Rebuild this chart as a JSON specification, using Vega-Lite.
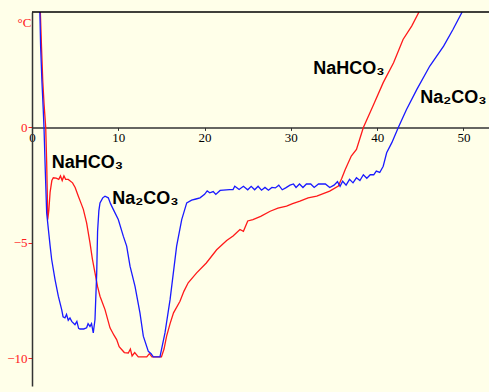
{
  "$schema": "https://vega.github.io/schema/vega-lite/v6.json",
  "width": 457,
  "height": 374,
  "autosize": {"type": "none"},
  "padding": {"left": 32, "top": 12, "right": 0, "bottom": 6},
  "background": "#FFFFE9",
  "config": {"view": {"stroke": null, "fill": "#FFFFE9"}},
  "datasets": {
    "curves": [
      {"s":"NaHCO3","t":0.95,"v":5.2},{"s":"NaHCO3","t":1.1,"v":3.5},{"s":"NaHCO3","t":1.25,"v":2.0},{"s":"NaHCO3","t":1.4,"v":1.0},{"s":"NaHCO3","t":1.59,"v":0},{"s":"NaHCO3","t":1.7,"v":-1.5},{"s":"NaHCO3","t":1.78,"v":-3.0},{"s":"NaHCO3","t":1.82,"v":-4.0},{"s":"NaHCO3","t":1.95,"v":-3.6},{"s":"NaHCO3","t":2.1,"v":-2.8},{"s":"NaHCO3","t":2.3,"v":-2.3},{"s":"NaHCO3","t":2.47,"v":-2.18},{"s":"NaHCO3","t":2.8,"v":-2.2},{"s":"NaHCO3","t":3.1,"v":-2.25},{"s":"NaHCO3","t":3.3,"v":-2.1},{"s":"NaHCO3","t":3.5,"v":-2.3},{"s":"NaHCO3","t":3.7,"v":-2.1},{"s":"NaHCO3","t":3.9,"v":-2.25},{"s":"NaHCO3","t":4.2,"v":-2.25},{"s":"NaHCO3","t":4.7,"v":-2.4},{"s":"NaHCO3","t":5.0,"v":-2.6},{"s":"NaHCO3","t":5.37,"v":-2.98},{"s":"NaHCO3","t":5.7,"v":-3.3},{"s":"NaHCO3","t":5.95,"v":-3.55},{"s":"NaHCO3","t":6.33,"v":-4.13},{"s":"NaHCO3","t":6.72,"v":-5.0},{"s":"NaHCO3","t":7.0,"v":-5.7},{"s":"NaHCO3","t":7.3,"v":-6.3},{"s":"NaHCO3","t":7.6,"v":-6.9},{"s":"NaHCO3","t":7.88,"v":-7.31},{"s":"NaHCO3","t":8.46,"v":-7.89},{"s":"NaHCO3","t":9.04,"v":-8.68},{"s":"NaHCO3","t":9.5,"v":-9.0},{"s":"NaHCO3","t":9.81,"v":-9.19},{"s":"NaHCO3","t":10.1,"v":-9.5},{"s":"NaHCO3","t":10.39,"v":-9.62},{"s":"NaHCO3","t":10.7,"v":-9.75},{"s":"NaHCO3","t":11.16,"v":-9.77},{"s":"NaHCO3","t":11.4,"v":-9.6},{"s":"NaHCO3","t":11.6,"v":-9.9},{"s":"NaHCO3","t":11.9,"v":-9.75},{"s":"NaHCO3","t":12.32,"v":-9.94},{"s":"NaHCO3","t":12.8,"v":-9.94},{"s":"NaHCO3","t":13.3,"v":-9.94},{"s":"NaHCO3","t":13.6,"v":-9.8},{"s":"NaHCO3","t":13.9,"v":-9.94},{"s":"NaHCO3","t":14.5,"v":-9.94},{"s":"NaHCO3","t":15.0,"v":-9.94},{"s":"NaHCO3","t":15.3,"v":-9.6},{"s":"NaHCO3","t":15.6,"v":-9.04},{"s":"NaHCO3","t":16.0,"v":-8.5},{"s":"NaHCO3","t":16.4,"v":-8.03},{"s":"NaHCO3","t":17.15,"v":-7.53},{"s":"NaHCO3","t":17.6,"v":-7.1},{"s":"NaHCO3","t":18.1,"v":-6.73},{"s":"NaHCO3","t":19.08,"v":-6.3},{"s":"NaHCO3","t":20.2,"v":-5.87},{"s":"NaHCO3","t":21.4,"v":-5.3},{"s":"NaHCO3","t":22.56,"v":-4.9},{"s":"NaHCO3","t":23.3,"v":-4.7},{"s":"NaHCO3","t":24.1,"v":-4.42},{"s":"NaHCO3","t":24.5,"v":-4.5},{"s":"NaHCO3","t":25.0,"v":-4.05},{"s":"NaHCO3","t":25.6,"v":-3.99},{"s":"NaHCO3","t":26.5,"v":-3.85},{"s":"NaHCO3","t":27.6,"v":-3.63},{"s":"NaHCO3","t":28.5,"v":-3.5},{"s":"NaHCO3","t":29.5,"v":-3.41},{"s":"NaHCO3","t":30.2,"v":-3.3},{"s":"NaHCO3","t":31.05,"v":-3.19},{"s":"NaHCO3","t":32.0,"v":-3.05},{"s":"NaHCO3","t":33.0,"v":-2.98},{"s":"NaHCO3","t":34.5,"v":-2.76},{"s":"NaHCO3","t":35.5,"v":-2.54},{"s":"NaHCO3","t":35.9,"v":-2.2},{"s":"NaHCO3","t":36.3,"v":-1.82},{"s":"NaHCO3","t":37.0,"v":-1.24},{"s":"NaHCO3","t":37.6,"v":-0.95},{"s":"NaHCO3","t":38.4,"v":0.0},{"s":"NaHCO3","t":39.5,"v":0.92},{"s":"NaHCO3","t":40.7,"v":1.94},{"s":"NaHCO3","t":41.9,"v":2.8},{"s":"NaHCO3","t":43.0,"v":3.81},{"s":"NaHCO3","t":44.0,"v":4.39},{"s":"NaHCO3","t":44.8,"v":4.97},{"s":"NaHCO3","t":45.0,"v":5.2},
      {"s":"Na2CO3","t":0.9,"v":5.2},{"s":"Na2CO3","t":1.0,"v":3.5},{"s":"Na2CO3","t":1.15,"v":2.0},{"s":"Na2CO3","t":1.3,"v":0.8},{"s":"Na2CO3","t":1.39,"v":0},{"s":"Na2CO3","t":1.55,"v":-2.0},{"s":"Na2CO3","t":1.7,"v":-3.7},{"s":"Na2CO3","t":1.9,"v":-4.42},{"s":"Na2CO3","t":2.09,"v":-5.1},{"s":"Na2CO3","t":2.28,"v":-5.72},{"s":"Na2CO3","t":2.67,"v":-6.59},{"s":"Na2CO3","t":3.05,"v":-7.31},{"s":"Na2CO3","t":3.44,"v":-7.89},{"s":"Na2CO3","t":3.6,"v":-8.2},{"s":"Na2CO3","t":3.82,"v":-8.25},{"s":"Na2CO3","t":4.0,"v":-8.1},{"s":"Na2CO3","t":4.2,"v":-8.35},{"s":"Na2CO3","t":4.4,"v":-8.25},{"s":"Na2CO3","t":4.6,"v":-8.4},{"s":"Na2CO3","t":4.98,"v":-8.54},{"s":"Na2CO3","t":5.2,"v":-8.4},{"s":"Na2CO3","t":5.4,"v":-8.7},{"s":"Na2CO3","t":5.56,"v":-8.73},{"s":"Na2CO3","t":6.0,"v":-8.73},{"s":"Na2CO3","t":6.33,"v":-8.68},{"s":"Na2CO3","t":6.5,"v":-8.5},{"s":"Na2CO3","t":6.72,"v":-8.62},{"s":"Na2CO3","t":6.9,"v":-8.5},{"s":"Na2CO3","t":7.1,"v":-8.9},{"s":"Na2CO3","t":7.3,"v":-8.32},{"s":"Na2CO3","t":7.5,"v":-6.3},{"s":"Na2CO3","t":7.6,"v":-4.5},{"s":"Na2CO3","t":7.75,"v":-3.6},{"s":"Na2CO3","t":7.88,"v":-3.27},{"s":"Na2CO3","t":8.2,"v":-3.05},{"s":"Na2CO3","t":8.46,"v":-2.98},{"s":"Na2CO3","t":8.84,"v":-3.05},{"s":"Na2CO3","t":9.1,"v":-3.3},{"s":"Na2CO3","t":9.42,"v":-3.55},{"s":"Na2CO3","t":10.0,"v":-3.99},{"s":"Na2CO3","t":10.58,"v":-4.71},{"s":"Na2CO3","t":10.97,"v":-5.14},{"s":"Na2CO3","t":11.36,"v":-6.01},{"s":"Na2CO3","t":11.94,"v":-6.88},{"s":"Na2CO3","t":12.51,"v":-8.03},{"s":"Na2CO3","t":12.9,"v":-9.04},{"s":"Na2CO3","t":13.48,"v":-9.7},{"s":"Na2CO3","t":13.8,"v":-9.8},{"s":"Na2CO3","t":14.06,"v":-9.94},{"s":"Na2CO3","t":14.83,"v":-9.94},{"s":"Na2CO3","t":15.41,"v":-8.9},{"s":"Na2CO3","t":16.0,"v":-7.46},{"s":"Na2CO3","t":16.38,"v":-6.3},{"s":"Na2CO3","t":16.76,"v":-5.14},{"s":"Na2CO3","t":17.35,"v":-3.99},{"s":"Na2CO3","t":17.93,"v":-3.27},{"s":"Na2CO3","t":18.5,"v":-3.15},{"s":"Na2CO3","t":19.0,"v":-3.1},{"s":"Na2CO3","t":19.47,"v":-3.05},{"s":"Na2CO3","t":20.0,"v":-2.9},{"s":"Na2CO3","t":20.3,"v":-2.75},{"s":"Na2CO3","t":20.6,"v":-2.83},{"s":"Na2CO3","t":21.0,"v":-2.78},{"s":"Na2CO3","t":21.3,"v":-2.9},{"s":"Na2CO3","t":21.8,"v":-2.73},{"s":"Na2CO3","t":22.9,"v":-2.69},{"s":"Na2CO3","t":23.3,"v":-2.69},{"s":"Na2CO3","t":23.5,"v":-2.55},{"s":"Na2CO3","t":23.7,"v":-2.6},{"s":"Na2CO3","t":24.0,"v":-2.69},{"s":"Na2CO3","t":24.5,"v":-2.55},{"s":"Na2CO3","t":25.0,"v":-2.7},{"s":"Na2CO3","t":25.4,"v":-2.55},{"s":"Na2CO3","t":25.8,"v":-2.7},{"s":"Na2CO3","t":26.2,"v":-2.55},{"s":"Na2CO3","t":26.6,"v":-2.72},{"s":"Na2CO3","t":27.0,"v":-2.6},{"s":"Na2CO3","t":27.4,"v":-2.72},{"s":"Na2CO3","t":27.8,"v":-2.6},{"s":"Na2CO3","t":28.2,"v":-2.62},{"s":"Na2CO3","t":28.6,"v":-2.5},{"s":"Na2CO3","t":29.0,"v":-2.7},{"s":"Na2CO3","t":29.4,"v":-2.62},{"s":"Na2CO3","t":29.9,"v":-2.5},{"s":"Na2CO3","t":30.3,"v":-2.45},{"s":"Na2CO3","t":30.6,"v":-2.6},{"s":"Na2CO3","t":31.0,"v":-2.45},{"s":"Na2CO3","t":31.4,"v":-2.6},{"s":"Na2CO3","t":31.8,"v":-2.45},{"s":"Na2CO3","t":32.3,"v":-2.45},{"s":"Na2CO3","t":32.7,"v":-2.6},{"s":"Na2CO3","t":33.2,"v":-2.45},{"s":"Na2CO3","t":34.0,"v":-2.45},{"s":"Na2CO3","t":34.5,"v":-2.6},{"s":"Na2CO3","t":35.0,"v":-2.5},{"s":"Na2CO3","t":35.4,"v":-2.35},{"s":"Na2CO3","t":35.7,"v":-2.55},{"s":"Na2CO3","t":36.0,"v":-2.33},{"s":"Na2CO3","t":36.4,"v":-2.5},{"s":"Na2CO3","t":36.8,"v":-2.25},{"s":"Na2CO3","t":37.2,"v":-2.4},{"s":"Na2CO3","t":37.6,"v":-2.18},{"s":"Na2CO3","t":38.0,"v":-2.3},{"s":"Na2CO3","t":38.4,"v":-2.05},{"s":"Na2CO3","t":38.8,"v":-2.2},{"s":"Na2CO3","t":39.2,"v":-2.05},{"s":"Na2CO3","t":39.6,"v":-2.05},{"s":"Na2CO3","t":39.9,"v":-1.89},{"s":"Na2CO3","t":40.3,"v":-1.95},{"s":"Na2CO3","t":40.7,"v":-1.68},{"s":"Na2CO3","t":41.1,"v":-1.1},{"s":"Na2CO3","t":41.7,"v":-0.66},{"s":"Na2CO3","t":42.45,"v":0},{"s":"Na2CO3","t":43.4,"v":0.78},{"s":"Na2CO3","t":44.6,"v":1.65},{"s":"Na2CO3","t":46.1,"v":2.66},{"s":"Na2CO3","t":47.7,"v":3.52},{"s":"Na2CO3","t":48.8,"v":4.25},{"s":"Na2CO3","t":49.8,"v":4.97},{"s":"Na2CO3","t":50.0,"v":5.2}
    ],
    "labels": [
      {"t": 2.3, "v": -1.55, "label": "NaHCO₃"},
      {"t": 9.3, "v": -3.1, "label": "Na₂CO₃"},
      {"t": 32.6, "v": 2.55, "label": "NaHCO₃"},
      {"t": 45.0, "v": 1.27, "label": "Na₂CO₃"}
    ],
    "frame": [{"v": 5}]
  },
  "layer": [
    {
      "data": {"name": "curves"},
      "mark": {"type": "line", "strokeWidth": 1.3, "clip": true, "interpolate": "linear"},
      "encoding": {
        "x": {
          "field": "t", "type": "quantitative",
          "scale": {"domain": [0, 52.96], "nice": false, "zero": false},
          "axis": {
            "title": null, "values": [0, 10, 20, 30, 40, 50], "offset": -258.6,
            "grid": false, "domainColor": "#333333", "domainWidth": 1.5,
            "tickColor": "#333333", "tickSize": 3,
            "labelFont": "Liberation Sans Narrow", "labelFontSize": 13, "labelColor": "#000000",
            "labelPadding": 1, "labelFlush": false
          }
        },
        "y": {
          "field": "v", "type": "quantitative",
          "scale": {"domain": [-11.2, 5], "nice": false, "zero": false},
          "axis": {
            "title": "°C", "titleAngle": 0, "titleColor": "#FF2020", "titleFont": "Liberation Sans Narrow",
            "titleFontSize": 13, "titleFontWeight": "normal", "titleX": -8, "titleY": 10,
            "titleAlign": "center", "titleBaseline": "middle",
            "values": [-10, -5, 0], "grid": false,
            "domainColor": "#333333", "domainWidth": 1.5,
            "tickColor": "#FF2020", "tickSize": 4,
            "labelFont": "Liberation Sans Narrow", "labelFontSize": 13, "labelColor": "#FF2020",
            "labelPadding": 1
          }
        },
        "color": {
          "field": "s", "type": "nominal",
          "scale": {"domain": ["NaHCO3", "Na2CO3"], "range": ["#FF1A1A", "#1A1AFF"]},
          "legend": null
        }
      }
    },
    {
      "data": {"name": "frame"},
      "mark": {"type": "rule", "color": "#000000", "strokeWidth": 1.5},
      "encoding": {"y": {"field": "v", "type": "quantitative"}}
    },
    {
      "data": {"name": "labels"},
      "mark": {"type": "text", "align": "left", "baseline": "middle", "font": "Liberation Sans", "fontWeight": "bold", "fontSize": 18, "color": "#000000"},
      "encoding": {
        "x": {"field": "t", "type": "quantitative"},
        "y": {"field": "v", "type": "quantitative"},
        "text": {"field": "label"}
      }
    }
  ]
}
